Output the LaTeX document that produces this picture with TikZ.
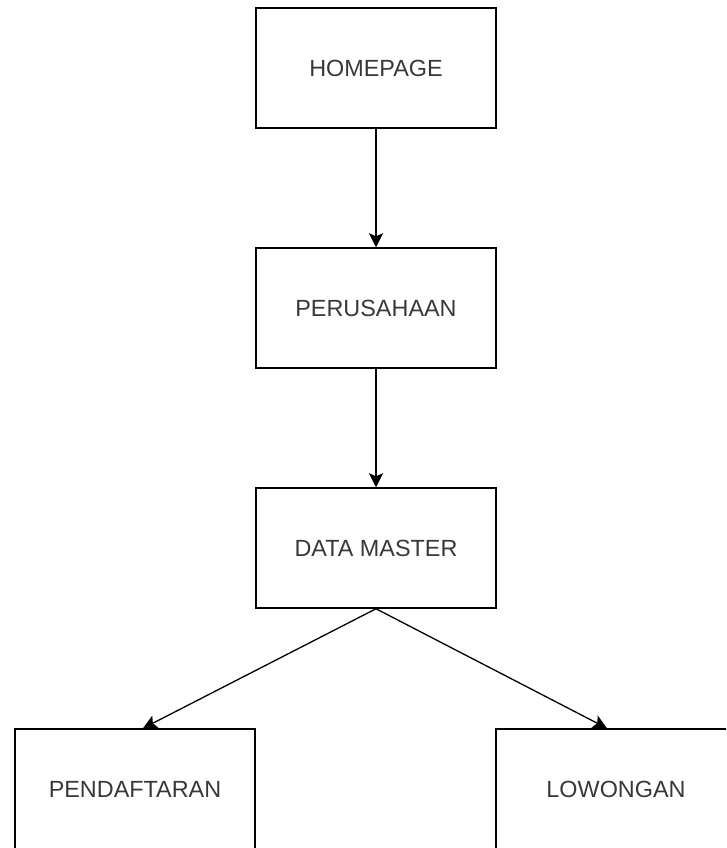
\documentclass[tikz,border=0pt]{standalone}
\usepackage{fontspec}
\setmainfont{Liberation Sans}
\usetikzlibrary{arrows.meta}
\definecolor{textgray}{rgb}{0.22,0.22,0.22}

\begin{document}
\begin{tikzpicture}[x=1pt,y=-1pt,>={Stealth[length=14pt,width=14pt,inset=3pt]},line width=1.5pt,
  menubox/.style={draw,rectangle,minimum width=240pt,minimum height=120pt,inner sep=0pt,
    font=\fontsize{23.4}{28}\selectfont,text=textgray}]
\useasboundingbox (0,0) rectangle (726,848);
\clip (0,0) rectangle (726,848);
\node[menubox] (homepage) at (376,68) {HOMEPAGE};
\node[menubox] (perusahaan) at (376,308) {PERUSAHAAN};
\node[menubox] (datamaster) at (376,548) {DATA MASTER};
\node[menubox] (pendaftaran) at (135,789) {PENDAFTARAN};
\node[menubox] (lowongan) at (616,789) {LOWONGAN};
\draw[->] (homepage) -- (perusahaan);
\draw[->] (perusahaan) -- (datamaster);
\draw[->,line width=1.3pt] (datamaster.south) -- ([xshift=8pt]pendaftaran.north);
\draw[->,line width=1.3pt] (datamaster.south) -- ([xshift=-9pt]lowongan.north);
\end{tikzpicture}
\end{document}
